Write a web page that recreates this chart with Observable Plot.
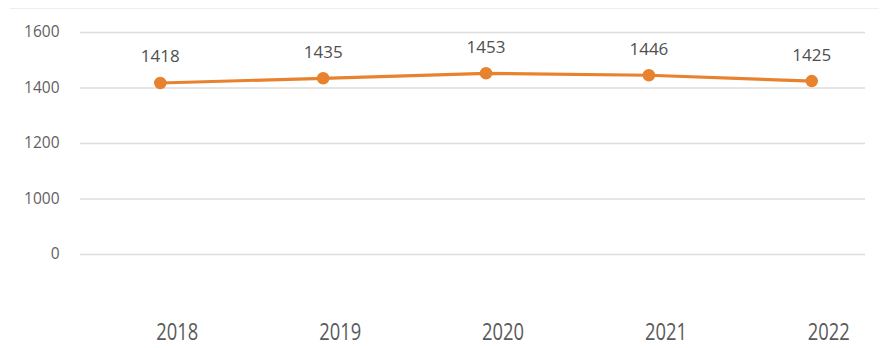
<!DOCTYPE html>
<html><head><meta charset="utf-8">
<script src="https://cdn.jsdelivr.net/npm/d3@7"></script>
<script src="https://cdn.jsdelivr.net/npm/@observablehq/plot@0.6"></script>
<style>
body{margin:0;background:#fff;}
#chart{position:relative;width:883px;height:348px;}
#chart::before{content:"";position:absolute;left:10px;right:4px;top:8px;border-top:1px solid #eeeeee;}
</style>
</head><body><div id="chart"></div>
<script>
const years = [2018, 2019, 2020, 2021, 2022];
const values = [1418, 1435, 1453, 1446, 1425];
const yTicks = [800, 1000, 1200, 1400, 1600];
const yTickLabels = ["0", "1000", "1200", "1400", "1600"];

const data = years.map((y, i) => ({year: y, value: values[i]}));
const color = "#E8822E";

const chart = Plot.plot({
  width: 883,
  height: 348,
  marginLeft: 80,
  marginRight: 18,
  marginTop: 32,
  marginBottom: 94,
  style: {background: "transparent", fontFamily: "'Open Sans', sans-serif"},
  x: {domain: [2017.51, 2022.33]},
  y: {domain: [800, 1600]},
  marks: [
    Plot.ruleY(yTicks, {stroke: "#dcdcdc", strokeWidth: 1.3}),
    Plot.axisY({ticks: yTicks, tickFormat: d => yTickLabels[yTicks.indexOf(d)], tickSize: 0, tickPadding: 21, fontSize: 15.5, fill: "#5f5f5f", label: null}),
    Plot.axisX({ticks: years, tickFormat: d => String(d), tickSize: 0, tickPadding: 68, dx: 17, fontSize: 18, fill: "#5a5a5a", label: null}),
    Plot.line(data, {x: "year", y: "value", stroke: color, strokeWidth: 3.2}),
    Plot.dot(data, {x: "year", y: "value", r: 5.5, fill: color, stroke: color}),
    Plot.text(data, {x: "year", y: "value", text: d => String(d.value), dy: -26, fontSize: 17, fill: "#4f4f4f"})
  ]
});
d3.select(chart).selectAll('g[aria-label="x-axis tick label"] text').each(function() {
  const t = this.getAttribute("transform") || "";
  this.setAttribute("transform", t + " scale(1.02,1.36)");
});
document.getElementById("chart").appendChild(chart);
</script>
</body></html>
